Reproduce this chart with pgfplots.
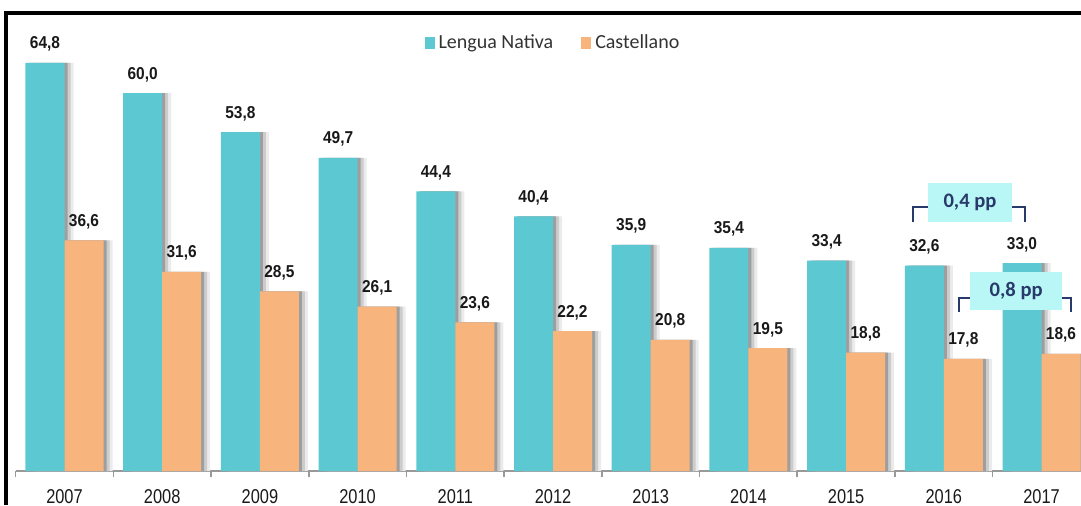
\documentclass[border=0pt]{standalone}
\usepackage{pgfplots}
\pgfplotsset{compat=1.18}
\usepackage{fontspec}
\setmainfont{Liberation Sans}
\newfontfamily\narrow[FakeStretch=0.82]{Liberation Sans}
\newfontfamily\narrowb[FakeStretch=0.9]{Liberation Sans}
\newfontfamily\calib{Carlito}
\definecolor{teal1}{RGB}{92,201,210}
\definecolor{orange1}{RGB}{247,180,125}
\definecolor{navy1}{RGB}{40,58,105}
\definecolor{boxc}{RGB}{185,246,246}
\pgfplotstableread{
x ln ca
0 64.8 36.6
1 60.0 31.6
2 53.8 28.5
3 49.7 26.1
4 44.4 23.6
5 40.4 22.2
6 35.9 20.8
7 35.4 19.5
8 33.4 18.8
9 32.6 17.8
10 33.0 18.6
}\datatable
\begin{document}
\begin{tikzpicture}
\begin{axis}[
  at={(7.825pt,17pt)}, anchor=south west,
  scale only axis, width=532.675pt, height=229pt,
  xmin=-0.5, xmax=10.404, ymin=0, ymax=72.7,
  axis x line=bottom, axis y line=none,
  axis line style={-, draw=black!40, line width=0.8pt},
  ybar, bar width=19.5pt,
  xtick={0,...,10},
  xticklabels={2007,2008,2009,2010,2011,2012,2013,2014,2015,2016,2017},
  major tick length=0pt,
  minor xtick={-0.5,0.5,...,9.5},
  minor tick length=3pt,
  tick align=outside,
  minor tick style={draw=black!40, line width=0.8pt},
  xticklabel style={font=\narrow\fontsize{10}{11}\selectfont, text=black!90, inner sep=0pt, anchor=north, yshift=-9pt},
  clip=false,
  /pgf/number format/.cd, fixed, fixed zerofill, precision=1, use comma, assume math mode=true,
  /pgfplots/.cd,
  nodes near coords,
  every node near coord/.append style={font=\narrowb\bfseries\fontsize{8.6}{9}\selectfont, text=black!90, anchor=base, inner sep=0pt, yshift=7pt},
  legend style={at={(rel axis cs:0.5053,0.9345)}, anchor=center, draw=none, fill=none,
    legend columns=2, font=\calib\fontsize{10}{12}\selectfont, text=black!80,
    /tikz/every even column/.append style={column sep=12pt}},
  legend image code/.code={\fill[#1] (0pt,-3pt) rectangle (5pt,3pt);},
]
% shadows
\addplot[forget plot, fill=black!8, draw=none, bar shift=-9.75pt+4.5pt, nodes near coords=\empty] table[x=x,y=ln] {\datatable};
\addplot[forget plot, fill=black!20, draw=none, bar shift=-9.75pt+3pt, nodes near coords=\empty] table[x=x,y=ln] {\datatable};
\addplot[forget plot, fill=black!38, draw=none, bar shift=-9.75pt+1.5pt, nodes near coords=\empty] table[x=x,y=ln] {\datatable};
\addplot[fill=teal1, draw=none, bar shift=-9.75pt] table[x=x,y=ln] {\datatable};
\addplot[forget plot, fill=black!8, draw=none, bar shift=9.75pt+4.5pt, nodes near coords=\empty] table[x=x,y=ca] {\datatable};
\addplot[forget plot, fill=black!20, draw=none, bar shift=9.75pt+3pt, nodes near coords=\empty] table[x=x,y=ca] {\datatable};
\addplot[forget plot, fill=black!38, draw=none, bar shift=9.75pt+1.5pt, nodes near coords=\empty] table[x=x,y=ca] {\datatable};
\addplot[fill=orange1, draw=none, bar shift=9.75pt] table[x=x,y=ca] {\datatable};
\legend{Lengua Nativa, Castellano}
% annotations
\draw[navy1, line width=1.1pt] (axis cs:8.684,39.52) -- (axis cs:8.684,41.9) -- (axis cs:9.831,41.9) -- (axis cs:9.831,39.52);
\node[fill=boxc, minimum width=42pt, minimum height=19.5pt, inner sep=0pt, text=navy1, font=\calib\bfseries\fontsize{10.3}{12}\selectfont] at (axis cs:9.268,42.6) {0,4 pp};
\draw[navy1, line width=1.1pt] (axis cs:9.156,25.24) -- (axis cs:9.156,27.46) -- (axis cs:10.302,27.46) -- (axis cs:10.302,25.24);
\node[fill=boxc, minimum width=46pt, minimum height=19pt, inner sep=0pt, text=navy1, font=\calib\bfseries\fontsize{10.3}{12}\selectfont] at (axis cs:9.74,28.57) {0,8 pp};
\end{axis}
\draw[black, line width=2pt] (3pt,0pt) -- (3pt,246pt) -- (541pt,246pt);
\pgfresetboundingbox
\useasboundingbox (0,0) rectangle (540.5pt,252.5pt);
\end{tikzpicture}
\end{document}
